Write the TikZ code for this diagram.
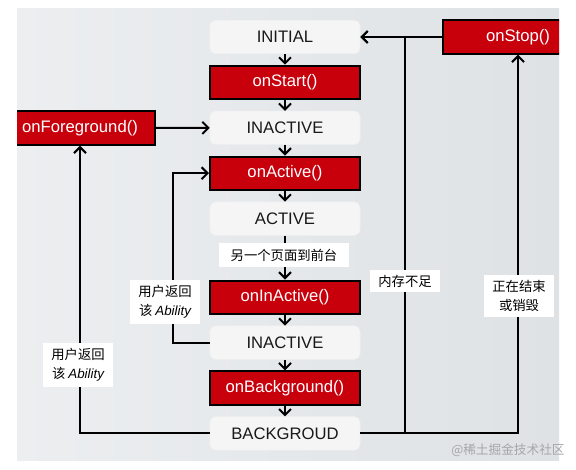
\documentclass[tikz,border=0pt]{standalone}
\usepackage{fontspec}
\setmainfont{Liberation Sans}
\newfontfamily\cjk{Noto Sans CJK SC}
\usetikzlibrary{positioning,arrows.meta}
\definecolor{methodred}{RGB}{200,0,12}
\definecolor{statefill}{RGB}{245,245,245}
\definecolor{panelleft}{RGB}{236,238,240}
\definecolor{panelright}{RGB}{222,226,229}
\pgfmathsetmacro{\boxgap}{8.1}
\tikzset{
  state/.style={rectangle, rounded corners=4pt, fill=statefill, draw=black!6,
    inner sep=0pt, minimum width=112.5pt, minimum height=25pt,
    font=\fontsize{12.5}{14}\selectfont, text=black!90},
  method/.style={state, sharp corners, fill=methodred, draw=black,
    line width=1.5pt, text=white},
  flow/.style={line width=1.5pt, -{Straight Barb[length=4.5pt,width=9pt]}},
  remark/.style={fill=white, inner xsep=6pt, inner ysep=4pt, align=center,
    font=\cjk\fontsize{10}{14}\selectfont},
}

\begin{document}
\begin{tikzpicture}[x=0.75pt, y=-0.75pt]
    \useasboundingbox (0,0) rectangle (576,469);
    % background panel
    \shade[left color=panelleft, right color=panelright] (17,8) rectangle (559,460);
    % define nodes
    % main column
    \node[state] (initial) at (285,37) {INITIAL};
    \node[method, below=\boxgap pt of initial] (onstart) {onStart()};
    \node[state, below=\boxgap pt of onstart] (inactivea) {INACTIVE};
    \node[method, below=\boxgap pt of inactivea] (onactive) {onActive()};
    \node[state, below=\boxgap pt of onactive] (active) {ACTIVE};
    \node[method, below=33pt of active] (oninactive) {onInActive()};
    \node[state, below=\boxgap pt of oninactive] (inactiveb) {INACTIVE};
    \node[method, below=\boxgap pt of inactiveb] (onbackground) {onBackground()};
    \node[state, below=\boxgap pt of onbackground] (background) {BACKGROUD};
    % side callbacks, cut off by the panel edge
    \begin{scope}
        \clip (17,8) rectangle (559,460);
        \node[method] (onforeground) at (80,128) {onForeground()};
        \node[method] (onstop) at (518,37) {onStop()};
    \end{scope}
    % draw connectors
    \draw[flow] (initial) -- (onstart);
    \draw[flow] (onstart) -- (inactivea);
    \draw[flow] (inactivea) -- (onactive);
    \draw[flow] (onactive) -- (active);
    \draw[flow] (active) -- (oninactive);
    \draw[flow] (oninactive) -- (inactiveb);
    \draw[flow] (inactiveb) -- (onbackground);
    \draw[flow] (onbackground) -- (background);
    \draw[flow] (onforeground) -- (inactivea);
    \draw[flow] (inactiveb.west) -- ++(-37,0) |- (onactive.west);
    \draw[flow] (background.west) -| (onforeground.south);
    \draw[flow] (background.east) -- ++(45,0) |- (initial.east);
    \draw[flow] (background.east) -| (onstop.south);
    \draw[flow] (onstop.west) -- (initial.east);
    % add labels
    \node[remark, inner xsep=9pt] (lblfront) at (284,255) {另一个页面到前台};
    \node[remark] (lblmem) at (405,281) {内存不足};
    \node[remark] (lblstop) at (519,296) {正在结束\\或销毁};
    \node[remark] (lblbacka) at (165,302) {用户返回\\该 {\rmfamily\itshape Ability}};
    \node[remark] (lblbackb) at (78,365) {用户返回\\该 {\rmfamily\itshape Ability}};
    \node[font=\cjk\fontsize{9.5}{11}\selectfont, text=black!35] (mark) at (508,450) {@稀土掘金技术社区};
\end{tikzpicture}
\end{document}
